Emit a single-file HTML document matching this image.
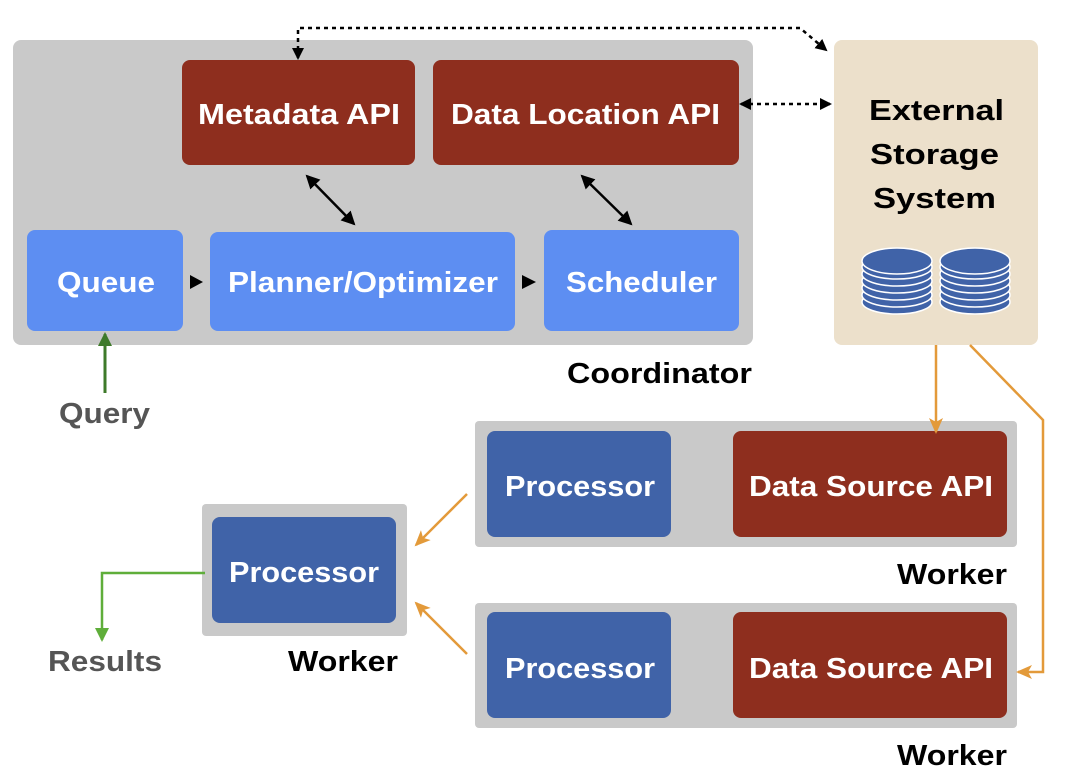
<!DOCTYPE html>
<html><head><meta charset="utf-8"><style>
html,body{margin:0;padding:0;background:#fff;}
svg{display:block;}
text{font-family:"Liberation Sans",Arial,sans-serif;font-size:29px;font-weight:bold;}
.w{fill:#fff;}
.b{fill:#000;}
</style></head><body>
<svg width="1076" height="784" viewBox="0 0 1076 784" xmlns="http://www.w3.org/2000/svg">
<defs>
<marker id="ak" markerWidth="12" markerHeight="12" refX="10" refY="6" orient="auto-start-reverse" markerUnits="userSpaceOnUse"><path d="M0,0 L12,6 L0,12 z" fill="#000"/></marker>
<marker id="ao" markerWidth="16" markerHeight="14" refX="14" refY="7" orient="auto" markerUnits="userSpaceOnUse"><path d="M0,0 L16,7 L0,14 L4,7 z" fill="#e39a3a"/></marker>
<marker id="ag" markerWidth="14" markerHeight="14" refX="12" refY="7" orient="auto" markerUnits="userSpaceOnUse"><path d="M0,0 L14,7 L0,14 z" fill="#3e7a2a"/></marker>
<marker id="ag2" markerWidth="14" markerHeight="14" refX="12" refY="7" orient="auto" markerUnits="userSpaceOnUse"><path d="M0,0 L14,7 L0,14 z" fill="#5fae3a"/></marker>
<marker id="ab" markerWidth="14" markerHeight="14" refX="12" refY="7" orient="auto-start-reverse" markerUnits="userSpaceOnUse"><path d="M0,0 L14,7 L0,14 z" fill="#000"/></marker>
</defs>

<rect x="13" y="40" width="740" height="305" rx="8" fill="#c9c9c9"/>
<rect x="182" y="60" width="233" height="105" rx="8" fill="#8e2e1e"/>
<rect x="433" y="60" width="306" height="105" rx="8" fill="#8e2e1e"/>
<rect x="27" y="230" width="156" height="101" rx="8" fill="#5d8ef2"/>
<rect x="210" y="232" width="305" height="99" rx="8" fill="#5d8ef2"/>
<rect x="544" y="230" width="195" height="101" rx="8" fill="#5d8ef2"/>
<text class="w" x="198" y="124" textLength="202" lengthAdjust="spacingAndGlyphs">Metadata API</text>
<text class="w" x="451" y="124" textLength="269" lengthAdjust="spacingAndGlyphs">Data Location API</text>
<text class="w" x="57" y="292" textLength="98" lengthAdjust="spacingAndGlyphs">Queue</text>
<text class="w" x="228" y="292" textLength="270" lengthAdjust="spacingAndGlyphs">Planner/Optimizer</text>
<text class="w" x="566" y="292" textLength="151" lengthAdjust="spacingAndGlyphs">Scheduler</text>
<text class="b" x="567" y="383" textLength="185" lengthAdjust="spacingAndGlyphs">Coordinator</text>
<path d="M190,275 L203,282 L190,289 z" fill="#000"/>
<path d="M522,275 L536,282 L522,289 z" fill="#000"/>
<line x1="307" y1="176" x2="354" y2="224" stroke="#000" stroke-width="2.5" marker-start="url(#ab)" marker-end="url(#ab)"/>
<line x1="582" y1="176" x2="631" y2="224" stroke="#000" stroke-width="2.5" marker-start="url(#ab)" marker-end="url(#ab)"/>

<rect x="834" y="40" width="204" height="305" rx="8" fill="#ece0cb"/>
<text class="b" x="869" y="120" textLength="135" lengthAdjust="spacingAndGlyphs">External</text>
<text class="b" x="870" y="164" textLength="129" lengthAdjust="spacingAndGlyphs">Storage</text>
<text class="b" x="873" y="208" textLength="123" lengthAdjust="spacingAndGlyphs">System</text>
<g fill="#4063a8" stroke="#fff" stroke-width="1.5">
<g id="cyl">
<ellipse cx="897" cy="302" rx="35" ry="12"/>
<ellipse cx="897" cy="295" rx="35" ry="12"/>
<ellipse cx="897" cy="288" rx="35" ry="12"/>
<ellipse cx="897" cy="281" rx="35" ry="12"/>
<ellipse cx="897" cy="274" rx="35" ry="12"/>
<ellipse cx="897" cy="267" rx="35" ry="12"/>
<ellipse cx="897" cy="261" rx="35" ry="13"/>
</g>
<use href="#cyl" x="78"/>
</g>

<path d="M298,58 L298,28 L800,28 L826,50" fill="none" stroke="#000" stroke-width="2.5" stroke-dasharray="4,4" marker-start="url(#ak)" marker-end="url(#ak)"/>
<line x1="741" y1="104" x2="830" y2="104" stroke="#000" stroke-width="2.5" stroke-dasharray="4,4" marker-start="url(#ak)" marker-end="url(#ak)"/>

<line x1="105" y1="393" x2="105" y2="334" stroke="#3e7a2a" stroke-width="3" marker-end="url(#ag)"/>
<text x="59" y="423" textLength="91" lengthAdjust="spacingAndGlyphs" style="fill:#555">Query</text>

<rect x="475" y="421" width="542" height="126" rx="4" fill="#c9c9c9"/>
<rect x="487" y="431" width="184" height="106" rx="8" fill="#4063a8"/>
<rect x="733" y="431" width="274" height="106" rx="8" fill="#8e2e1e"/>
<text class="w" x="505" y="496" textLength="150" lengthAdjust="spacingAndGlyphs">Processor</text>
<text class="w" x="749" y="496" textLength="244" lengthAdjust="spacingAndGlyphs">Data Source API</text>
<text class="b" x="897" y="584" textLength="110" lengthAdjust="spacingAndGlyphs">Worker</text>

<rect x="475" y="603" width="542" height="125" rx="4" fill="#c9c9c9"/>
<rect x="487" y="612" width="184" height="106" rx="8" fill="#4063a8"/>
<rect x="733" y="612" width="274" height="106" rx="8" fill="#8e2e1e"/>
<text class="w" x="505" y="678" textLength="150" lengthAdjust="spacingAndGlyphs">Processor</text>
<text class="w" x="749" y="678" textLength="244" lengthAdjust="spacingAndGlyphs">Data Source API</text>
<text class="b" x="897" y="765" textLength="110" lengthAdjust="spacingAndGlyphs">Worker</text>

<rect x="202" y="504" width="205" height="132" rx="4" fill="#c9c9c9"/>
<rect x="212" y="517" width="184" height="106" rx="8" fill="#4063a8"/>
<text class="w" x="229" y="582" textLength="150" lengthAdjust="spacingAndGlyphs">Processor</text>
<text class="b" x="288" y="671" textLength="110" lengthAdjust="spacingAndGlyphs">Worker</text>

<g stroke="#e39a3a" stroke-width="2.5" fill="none">
<line x1="936" y1="345" x2="936" y2="432" marker-end="url(#ao)"/>
<path d="M970,345 L1043,420 L1043,672 L1018,672" marker-end="url(#ao)"/>
<line x1="467" y1="494" x2="416" y2="545" marker-end="url(#ao)"/>
<line x1="467" y1="654" x2="416" y2="603" marker-end="url(#ao)"/>
</g>

<path d="M205,573 L102,573 L102,640" fill="none" stroke="#5fae3a" stroke-width="2.5" marker-end="url(#ag2)"/>
<text x="48" y="671" textLength="114" lengthAdjust="spacingAndGlyphs" style="fill:#555">Results</text>
</svg>
</body></html>
